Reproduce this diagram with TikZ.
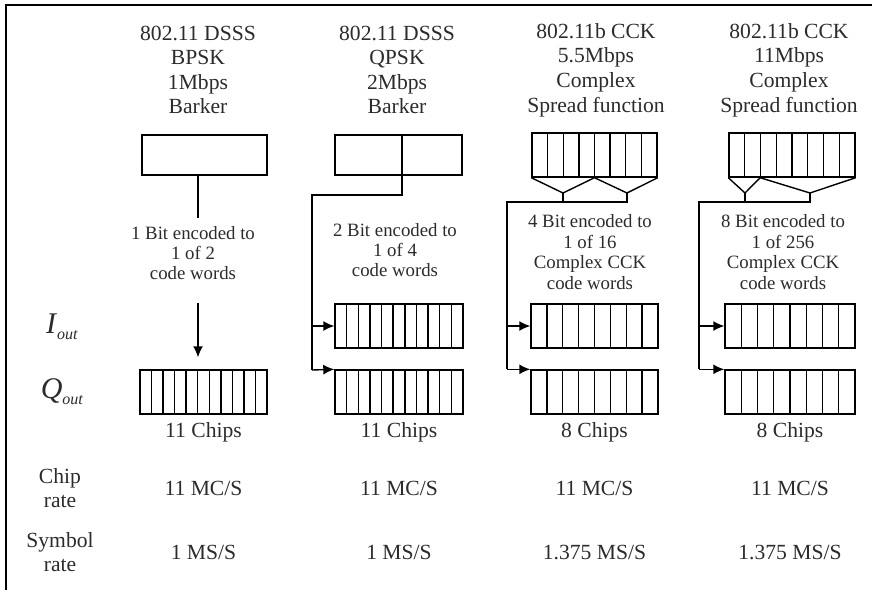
\documentclass[tikz,border=0pt]{standalone}
\usepackage{fontspec}
\setmainfont{Liberation Serif}
\usetikzlibrary{positioning,calc,arrows.meta}
\definecolor{ink}{HTML}{2B2B2B}

\begin{document}
\begin{tikzpicture}[
  x=0.5pt, y=-0.5pt,
  font=\fontsize{10.8}{12.3}\selectfont,
  line width=0.7pt,
  head/.style={align=center, text=ink, inner sep=0pt},
  enc/.style={align=center, text=ink, inner sep=0pt, font=\fontsize{9.4}{10.2}\selectfont},
  val/.style={text=ink, inner sep=0pt},
  side/.style={align=center, text=ink, inner sep=0pt},
  chipbox/.style={draw, minimum width=63.5pt, minimum height=22pt, inner sep=0pt},
  chipcells/.style={path picture={\foreach \k in {1,...,#1}
      \draw ($(path picture bounding box.south west)!{\k/(#1+1)}!(path picture bounding box.south east)$)
        -- ($(path picture bounding box.north west)!{\k/(#1+1)}!(path picture bounding box.north east)$);}},
  arr/.style={-{Latex[length=5.5pt,width=5pt]}}
]
\useasboundingbox (0,0) rectangle (872,590);
\draw[line width=1.4pt] (6,590) -- (6,5) -- (872,5);

% headers
\node[head] (h1) at (198,70) {802.11 DSSS\\BPSK\\1Mbps\\Barker};
\node[head] (h2) at (397,70) {802.11 DSSS\\QPSK\\2Mbps\\Barker};
\node[head] (h3) at (596,70) {802.11b CCK\\5.5Mbps\\Complex\\Spread function};
\node[head] (h4) at (789,70) {802.11b CCK\\11Mbps\\Complex\\Spread function};

% input words
\node[chipbox, minimum width=62.5pt, minimum height=20pt] (bk1) at (204.5,155) {};
\node[chipbox, minimum height=20pt] (bk2) at (398.5,155) {};
\node[chipbox, chipcells=7, minimum width=62.5pt] (bk3) at (594.5,155) {};
\node[chipbox, chipcells=7, minimum width=63pt] (bk4) at (792,155) {};

\node[enc] (e1) at (193,253) {1 Bit encoded to\\1 of 2\\code words};
\node[enc] (e2) at (395,250) {2 Bit encoded to\\1 of 4\\code words};
\node[enc] (e3) at (590,252) {4 Bit encoded to\\1 of 16\\Complex CCK\\code words};
\node[enc] (e4) at (783,252) {8 Bit encoded to\\1 of 256\\Complex CCK\\code words};

% output chips
\node[chipbox, chipcells=10] (q1) at (203.5,392) {};
\node[chipbox, chipcells=10, minimum width=64pt] (i2) at (399,326) {};
\node[chipbox, chipcells=10, minimum width=64pt] (q2) at (399,392) {};
\node[chipbox, chipcells=7] (i3) at (594.5,326) {};
\node[chipbox, chipcells=7] (q3) at (594.5,392) {};
\node[chipbox, chipcells=7, minimum width=65pt] (i4) at (790,326) {};
\node[chipbox, chipcells=7, minimum width=65pt] (q4) at (790,392) {};

% row labels
\node[side, font=\fontsize{15}{18}\selectfont] (iout) at (62,327) {\textit{I}\raisebox{-3pt}{\fontsize{8}{9}\selectfont\textit{out}}};
\node[side, font=\fontsize{15}{18}\selectfont] (qout) at (62,392) {\textit{Q}\raisebox{-3pt}{\fontsize{8}{9}\selectfont\textit{out}}};
\node[side] (crate) at (60,488) {Chip\\rate};
\node[side] (srate) at (60,552) {Symbol\\rate};

\node[val, below=3.5pt of q1] (n1) {11 Chips};
\node[val, below=3.5pt of q2] (n2) {11 Chips};
\node[val, below=3.5pt of q3] (n3) {8 Chips};
\node[val, below=3.5pt of q4] (n4) {8 Chips};
\node[val] (c1) at (q1 |- crate) {11 MC/S};
\node[val] (c2) at (q2 |- crate) {11 MC/S};
\node[val] (c3) at (q3 |- crate) {11 MC/S};
\node[val] (c4) at (q4 |- crate) {11 MC/S};
\node[val] (s1) at (q1 |- srate) {1 MS/S};
\node[val] (s2r) at (q2 |- srate) {1 MS/S};
\node[val] (s3) at (q3 |- srate) {1.375 MS/S};
\node[val] (s4) at (q4 |- srate) {1.375 MS/S};

% column 1
\coordinate (t1) at (198,218);
\coordinate (a1) at (198,303);
\draw (bk1.south -| t1) -- (t1);
\draw[arr, shorten >=6pt] (a1) -- (a1 |- q1.north);

% column 2
\coordinate (s2) at (402,195);
\coordinate (j2) at (312,370);
\draw (bk2.north -| s2) -- (s2) -- (s2 -| j2) -- (j2);
\draw[arr] (j2) -- (q2.north west);
\draw[arr] (j2 |- i2.west) -- (i2.west);

% column 3
\coordinate (v3a) at (563,193);
\coordinate (v3b) at (627,193);
\coordinate (j3) at (507,202);
\draw (bk3.south west) -- (v3a) -- (bk3.south) -- (v3b) -- (bk3.south east);
\draw (v3a) -- (v3a |- j3);
\draw (v3b) -- (v3b |- j3) -- (j3) -- (j3 |- q3.north);
\draw[arr] (j3 |- q3.north) -- (q3.north west);
\draw[arr] (j3 |- i3.west) -- (i3.west);

% column 4
\coordinate (m4) at ($(bk4.south west)!0.25!(bk4.south east)$);
\coordinate (v4a) at (745,193);
\coordinate (v4b) at (810,193);
\coordinate (j4) at (699,202);
\draw (bk4.south west) -- (v4a) -- (m4) -- (v4b) -- (bk4.south east);
\draw (v4a) -- (v4a |- j4);
\draw (v4b) -- (v4b |- j4) -- (j4) -- (j4 |- q4.north);
\draw[arr] (j4 |- q4.north) -- (q4.north west);
\draw[arr] (j4 |- i4.west) -- (i4.west);
\end{tikzpicture}
\end{document}
